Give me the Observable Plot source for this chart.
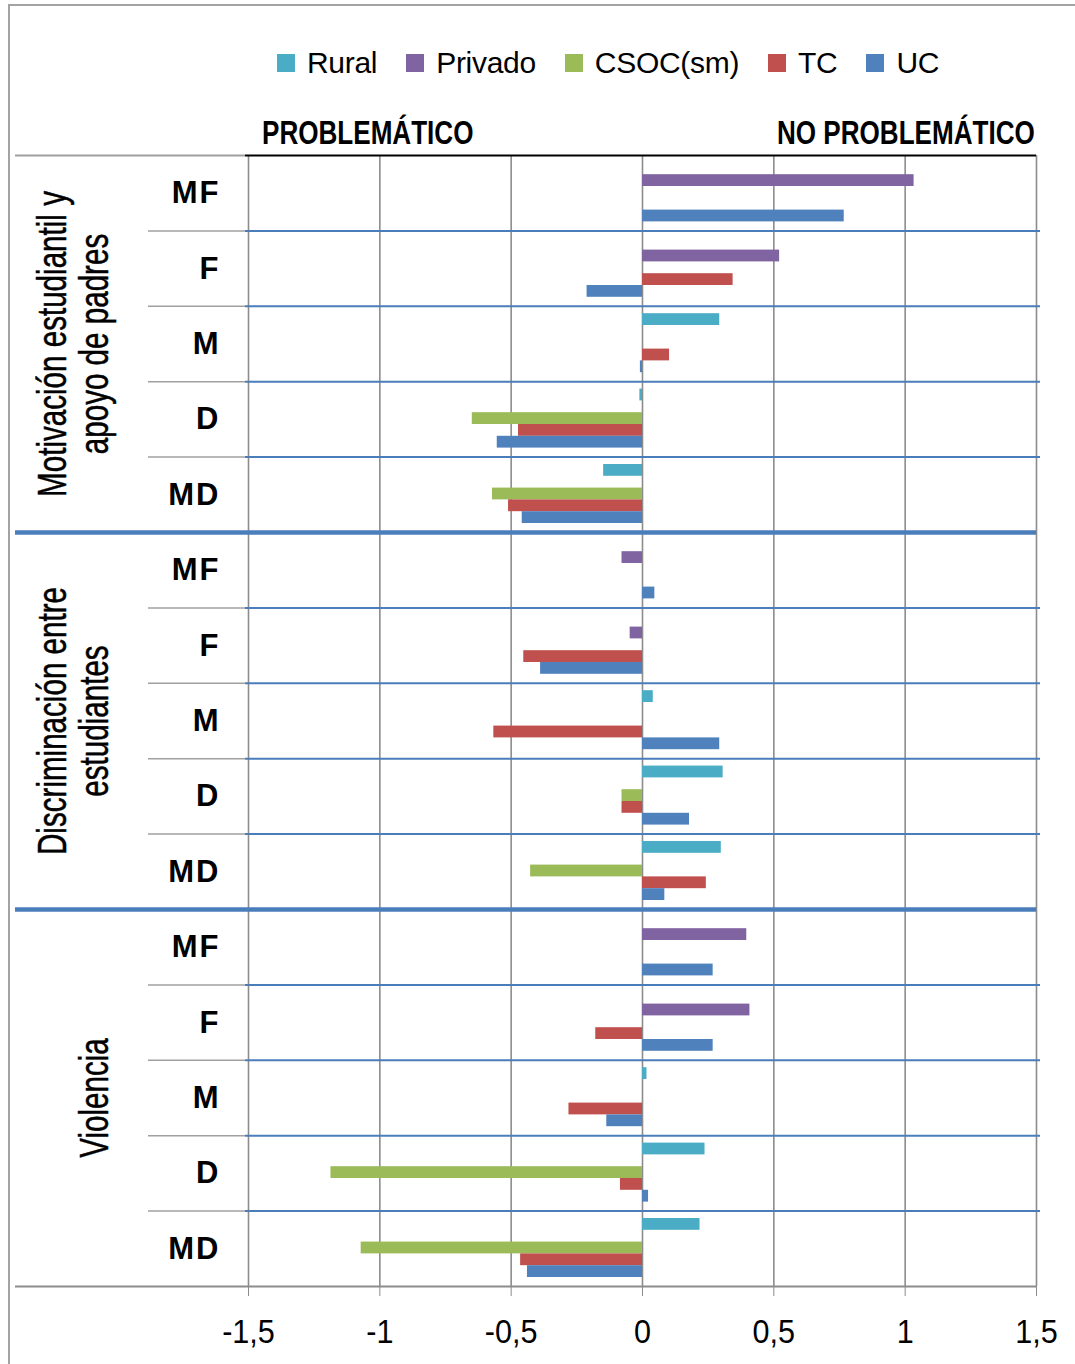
<!DOCTYPE html>
<html>
<head>
<meta charset="utf-8">
<script src="https://cdn.jsdelivr.net/npm/d3@7"></script>
<script src="https://cdn.jsdelivr.net/npm/@observablehq/plot@0.6"></script>
<style>
  body { margin: 0; background: #fff; font-family: "Liberation Sans", Arial, sans-serif; }
  #page { position: relative; width: 1075px; height: 1364px; overflow: hidden; background: #fff; }
  #page svg { position: absolute; left: 0; top: 0; }
  .frame { position: absolute; left: 8px; top: 4px; width: 1100px; height: 1400px;
           border-left: 2px solid #a3a3a3; border-top: 2px solid #a3a3a3; }
  .legend { position: absolute; left: 277px; top: 45px; display: flex; align-items: center;
            font-size: 30px; line-height: 36px; color: #000; letter-spacing: -0.3px; }
  .legend .item { display: flex; align-items: center; margin-right: 29px; }
  .legend .sw { width: 18px; height: 18px; margin-right: 12px; }
  .head { position: absolute; top: 114px; font-weight: bold; font-size: 33px; line-height: 38px;
          transform: scaleX(0.79); transform-origin: left center; white-space: nowrap; color: #000; }
  .rowlab text { letter-spacing: 2px; }
</style>
</head>
<body>
<div id="page"></div>
<script>
// Category structure
const levels = ["MF", "F", "M", "D", "MD"];
const groupLines = [
  ["Motivación estudiantil y", "apoyo de padres"],
  ["Discriminación entre", "estudiantes"],
  ["Violencia"]
];
const seriesNames = ["Rural", "Privado", "CSOC(sm)", "TC", "UC"];
const seriesColors = ["#4bacc6", "#8064a2", "#9bbb59", "#c0504d", "#4f81bd"];
const xTicks = [-1.5, -1, -0.5, 0, 0.5, 1, 1.5];
const sideLabels = ["PROBLEMÁTICO", "NO PROBLEMÁTICO"];

// Values per series, 15 rows: each group lists MF, F, M, D, MD (null = no bar)
const rural   = [null, null, 0.294, -0.010, -0.148,   null, null, 0.041, 0.307, 0.300,   null, null, 0.017, 0.238, 0.219];
const privado = [1.034, 0.522, null, null, null,      -0.078, -0.047, null, null, null,  0.397, 0.409, null, null, null];
const csoc    = [null, null, null, -0.648, -0.571,    null, null, null, -0.078, -0.426,  null, null, null, -1.186, -1.071];
const tc      = [null, 0.345, 0.103, -0.472, -0.510,  null, -0.452, -0.566, -0.078, 0.243, null, -0.178, -0.280, -0.084, -0.464];
const uc      = [0.768, -0.211, -0.008, -0.553, -0.458, 0.047, -0.388, 0.294, 0.179, 0.085, 0.269, 0.269, -0.136, 0.023, -0.438];
const seriesValues = [rural, privado, csoc, tc, uc];

// Derived tables
const rowCount = groupLines.length * levels.length;
const rows = d3.range(rowCount).map(r => ({row: r, level: levels[r % levels.length]}));
const slotTop = 0.098, slotSize = 0.1565; // bar slot layout inside a row (row units)
const bars = [];
seriesValues.forEach((vals, s) => vals.forEach((v, r) => {
  if (v != null) bars.push({series: seriesNames[s], slot: s, row: r, value: v});
}));
const innerEdges = rows.filter(d => d.row % levels.length !== 0).map(d => d.row);
const groupEdges = d3.range(1, groupLines.length).map(g => g * levels.length);
const groupFirst = [], groupLast = [];
groupLines.forEach((lines, g) => lines.forEach((t, j) => {
  const item = {center: g * levels.length + levels.length / 2, text: t};
  (j === lines.length - 1 ? groupLast : groupFirst).push(item);
}));

const plot = Plot.plot({
  width: 1075,
  height: 1364,
  marginLeft: 15,
  marginRight: 39,
  marginTop: 155,
  marginBottom: 78,
  x: {domain: [-1.5, 1.5], range: [248, 1036], label: null},
  y: {domain: [0, rowCount], range: [155, 1286], axis: null},
  color: {domain: seriesNames, range: seriesColors},
  style: {fontFamily: '"Liberation Sans", Arial, sans-serif', background: "transparent", color: "#000"},
  marks: [
    Plot.gridX(xTicks, {stroke: "#8c8c8c", strokeOpacity: 1, strokeWidth: 1.6}),
    Plot.rectX(bars, {
      x1: 0,
      x2: "value",
      y1: d => d.row + slotTop + d.slot * slotSize,
      y2: d => d.row + slotTop + (d.slot + 1) * slotSize,
      fill: "series"
    }),
    // row separators
    Plot.ruleY(innerEdges, {x1: -1.5, x2: 1.5, insetLeft: -3, insetRight: -4, stroke: "#4a7ebb", strokeWidth: 2}),
    Plot.ruleY(innerEdges, {insetLeft: 133, insetRight: 791, stroke: "#a0a0a0", strokeWidth: 1.5}),
    // group separators
    Plot.ruleY(groupEdges, {stroke: "#4a7ebb", strokeWidth: 4.5}),
    // top and bottom borders
    Plot.ruleY([0], {insetRight: 791, stroke: "#a0a0a0", strokeWidth: 2}),
    Plot.ruleY([0], {x1: -1.5, x2: 1.5, insetLeft: -3, stroke: "#000", strokeWidth: 2}),
    Plot.ruleY([rowCount], {stroke: "#8c8c8c", strokeWidth: 2}),
    Plot.axisX(xTicks, {
      tickSize: 10, tickPadding: 22, stroke: "#8c8c8c", fontSize: 34,
      tickFormat: d => String(d).replace(".", ","), className: "xticks"
    }),
    // level labels
    Plot.text(rows, {
      y: d => d.row + 0.5, text: "level", frameAnchor: "left", dx: 205,
      textAnchor: "end", fontSize: 31, fontWeight: "bold", className: "rowlab"
    }),
    // group labels (rotated)
    Plot.text(groupFirst, {
      y: "center", text: "text", frameAnchor: "left", dx: 38, rotate: -90,
      textAnchor: "middle", fontSize: 40, fill: "#000", stroke: "#000", strokeWidth: 0.5,
      className: "grouplab"
    }),
    Plot.text(groupLast, {
      y: "center", text: "text", frameAnchor: "left", dx: 80, rotate: -90,
      textAnchor: "middle", fontSize: 40, fill: "#000", stroke: "#000", strokeWidth: 0.5,
      className: "grouplab"
    })
  ]
});

// Horizontally condense some text runs
function condense(selector, k) {
  plot.querySelectorAll(selector).forEach(el => {
    const t = el.getAttribute("transform") || "";
    const x = parseFloat(el.getAttribute("x")) || 0;
    el.setAttribute("transform", `${t} translate(${x},0) scale(${k},1) translate(${-x},0)`);
  });
}
condense(".xticks text", 0.9);
condense(".grouplab text", 0.74);

const page = document.getElementById("page");
page.appendChild(plot);

const frame = document.createElement("div");
frame.className = "frame";
page.appendChild(frame);

// Legend
const legend = d3.select(page).append("div").attr("class", "legend");
const items = legend.selectAll(".item").data(seriesNames).join("div").attr("class", "item");
items.append("div").attr("class", "sw").style("background", (d, i) => seriesColors[i]);
items.append("span").text(d => d);

// Side headings
d3.select(page).append("div").attr("class", "head").style("left", "262px").text(sideLabels[0]);
d3.select(page).append("div").attr("class", "head").style("left", "777px").text(sideLabels[1]);
</script>
</body>
</html>
